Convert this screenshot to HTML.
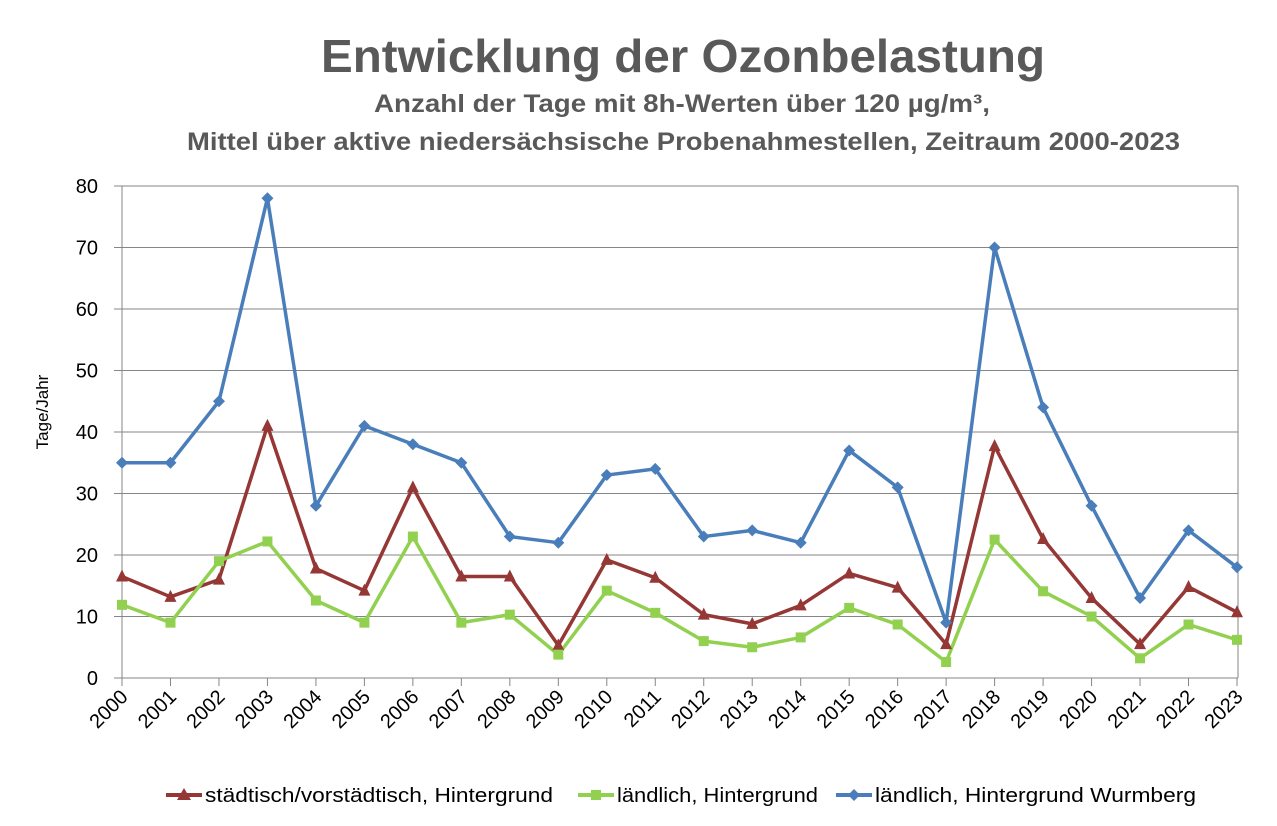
<!DOCTYPE html>
<html><head><meta charset="utf-8"><style>body{margin:0;background:#fff}svg{display:block}</style></head><body>
<svg xmlns="http://www.w3.org/2000/svg" width="1277" height="826" font-family="Liberation Sans, sans-serif">
<text x="683" y="72" text-anchor="middle" font-size="46" font-weight="bold" fill="#595959" textLength="724" lengthAdjust="spacingAndGlyphs">Entwicklung der Ozonbelastung</text>
<text x="374" y="112" font-size="25" font-weight="bold" fill="#595959" textLength="616" lengthAdjust="spacingAndGlyphs">Anzahl der Tage mit 8h-Werten über 120 µg/m³,</text>
<text x="187" y="150" font-size="25" font-weight="bold" fill="#595959" textLength="993" lengthAdjust="spacingAndGlyphs">Mittel über aktive niedersächsische Probenahmestellen, Zeitraum 2000-2023</text>
<g id="grid" stroke="#868686" stroke-width="1"></g>
<g id="lab" font-size="20" fill="#000"></g>
<g id="series"></g>
<text transform="translate(48,412) rotate(-90)" text-anchor="middle" font-size="17">Tage/Jahr</text>
<g font-size="20">
<line x1="166" y1="795" x2="202" y2="795" stroke="#953735" stroke-width="4"/><polygon points="184,788 191,800 177,800" fill="#953735"/>
<text x="205" y="802" textLength="348" lengthAdjust="spacingAndGlyphs">städtisch/vorstädtisch, Hintergrund</text>
<line x1="578" y1="795" x2="614" y2="795" stroke="#92D050" stroke-width="4"/><rect x="591" y="790" width="10" height="10" fill="#92D050"/>
<text x="617" y="802" textLength="201" lengthAdjust="spacingAndGlyphs">ländlich, Hintergrund</text>
<line x1="836" y1="795" x2="872" y2="795" stroke="#4A7EBB" stroke-width="4"/><polygon points="854,789 860,795 854,801 848,795" fill="#4A7EBB"/>
<text x="875" y="802" textLength="321" lengthAdjust="spacingAndGlyphs">ländlich, Hintergrund Wurmberg</text>
</g>
<script>
var ns="http://www.w3.org/2000/svg",x0=122,dx=1115/23,y0=678,sy=492/80;
function X(i){return x0+i*dx}function Y(v){return y0-v*sy}
function el(p,t,a,txt){var e=document.createElementNS(ns,t);for(var k in a)e.setAttribute(k,a[k]);if(txt!=null)e.textContent=txt;p.appendChild(e);return e}
var g=document.getElementById('grid'),l=document.getElementById('lab'),s=document.getElementById('series');
for(var v=0;v<=80;v+=10){el(g,'line',{x1:114,x2:1238,y1:Y(v),y2:Y(v)});el(l,'text',{x:98,y:Y(v)+7,'text-anchor':'end'},v)}
el(g,'line',{x1:x0,x2:x0,y1:Y(80),y2:y0});el(g,'line',{x1:1238,x2:1238,y1:Y(80),y2:y0});
for(var i=0;i<24;i++){el(g,'line',{x1:X(i),x2:X(i),y1:y0,y2:y0+8});el(l,'text',{transform:'translate('+(X(i)+7)+','+(y0+20)+') rotate(-45)','text-anchor':'end'},2000+i)}
var blue=[35,35,45,78,28,41,38,35,23,22,33,34,23,24,22,37,31,9,70,44,28,13,24,18];
var red=[16.5,13.2,16,41,17.8,14.2,31,16.5,16.5,5.3,19.2,16.3,10.3,8.8,11.8,17,14.7,5.5,37.7,22.6,13,5.5,14.8,10.7];
var green=[11.9,9,19,22.2,12.6,9,23,9,10.3,3.8,14.2,10.6,6,5,6.6,11.4,8.7,2.6,22.5,14.1,10,3.2,8.7,6.2];
function line(d,c){el(s,'polyline',{points:d.map(function(v,i){return X(i)+','+Y(v)}).join(' '),fill:'none',stroke:c,'stroke-width':3.5,'stroke-linejoin':'round'})}
line(red,'#953735');line(green,'#92D050');line(blue,'#4A7EBB');
red.forEach(function(v,i){var x=X(i),y=Y(v);el(s,'polygon',{points:(x)+','+(y-7)+' '+(x+6)+','+(y+5)+' '+(x-6)+','+(y+5),fill:'#953735'})});
green.forEach(function(v,i){el(s,'rect',{x:X(i)-5,y:Y(v)-5,width:10,height:10,fill:'#92D050'})});
blue.forEach(function(v,i){var x=X(i),y=Y(v);el(s,'polygon',{points:x+','+(y-6)+' '+(x+6)+','+y+' '+x+','+(y+6)+' '+(x-6)+','+y,fill:'#4A7EBB'})});
</script>
</svg>
</body></html>
